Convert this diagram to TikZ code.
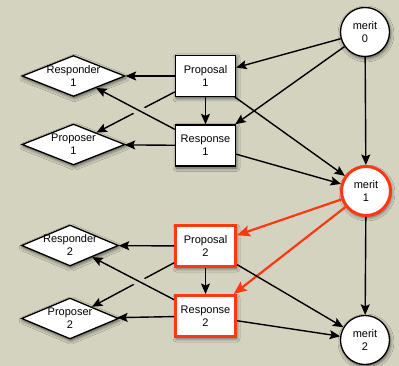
\documentclass[tikz,border=0pt]{standalone}
\usepackage{fontspec}
\setmainfont{Liberation Sans}
\usetikzlibrary{arrows.meta,shapes.geometric,shadows.blur}
\definecolor{bg}{RGB}{212,211,192}
\definecolor{hl}{RGB}{255,56,18}
\begin{document}
\begin{tikzpicture}[x=1pt,y=-1pt,
  txt/.style={font=\fontsize{11}{13}\selectfont, align=center},
  shad/.style={blur shadow={shadow xshift=1pt, shadow yshift=-2pt, shadow opacity=60, shadow blur radius=3.5pt}},
  box/.style={draw=black, line width=1.3pt, fill=white, minimum width=60pt, minimum height=41pt, inner sep=0pt, txt, shad},
  merit/.style={circle, draw=black, line width=1.3pt, fill=white, minimum size=49pt, inner sep=0pt, txt, shad},
  dia/.style={diamond, draw=black, line width=1.3pt, fill=white, inner sep=0pt, minimum height=41pt, shad},
  hot/.style={draw=hl, line width=3pt},
  arr/.style={line width=1.4pt, -{Stealth[length=10.5pt,width=9pt,inset=2pt]}},
  redarr/.style={draw=hl, line width=2.2pt, -{Stealth[length=13pt,width=11pt,inset=2.5pt]}},
  gap/.style={preaction={draw=bg, line width=10pt, -, shorten <=24pt, shorten >=24pt}}
]
\fill[bg] (0,0) rectangle (399,366);
\useasboundingbox (0,0) rectangle (399,366);

% merit nodes
\node[merit] (m0) at (365,32) {merit\\0};
\node[merit, hot] (m1) at (366,191) {merit\\1};
\node[merit] (m2) at (365,340) {merit\\2};

% boxes
\node[box] (p1) at (205.5,76) {Proposal\\1};
\node[box] (r1) at (205.5,145.5) {Response\\1};
\node[box, hot] (p2) at (205.5,246) {Proposal\\2};
\node[box, hot] (r2) at (205.5,316) {Response\\2};

% diamonds
\node[dia, minimum width=103pt, label={[txt]center:Responder\\1}] (rd1) at (73.5,76) {};
\node[dia, minimum width=103pt, label={[txt]center:Proposer\\1}] (pr1) at (73.5,144.5) {};
\node[dia, minimum width=97pt, label={[txt]center:Responder\\2}] (rd2) at (70,245.5) {};
\node[dia, minimum width=97pt, label={[txt]center:Proposer\\2}] (pr2) at (70,318.5) {};

% row 1 edges
\draw[arr] (m0) -- (p1);
\draw[arr] (m0) -- (r1);
\draw[arr] (m0) -- (m1);
\draw[arr] (p1) -- (rd1);
\draw[arr] (p1) -- (pr1);
\draw[arr, gap] (r1) -- (rd1);
\draw[arr] (r1) -- (pr1);
\draw[arr] (p1) -- (r1);
\draw[arr] (p1) -- (m1);
\draw[arr] (r1) -- (m1);

% row 2 edges
\draw[redarr] (m1) -- (p2);
\draw[redarr] (m1) -- (r2);
\draw[arr] (m1) -- (m2);
\draw[arr] (p2) -- (rd2);
\draw[arr] (p2) -- (pr2);
\draw[arr, gap] (r2) -- (rd2);
\draw[arr] (r2) -- (pr2);
\draw[arr] (p2) -- (r2);
\draw[arr] (p2) -- (m2);
\draw[arr] (r2) -- (m2);
\end{tikzpicture}
\end{document}
